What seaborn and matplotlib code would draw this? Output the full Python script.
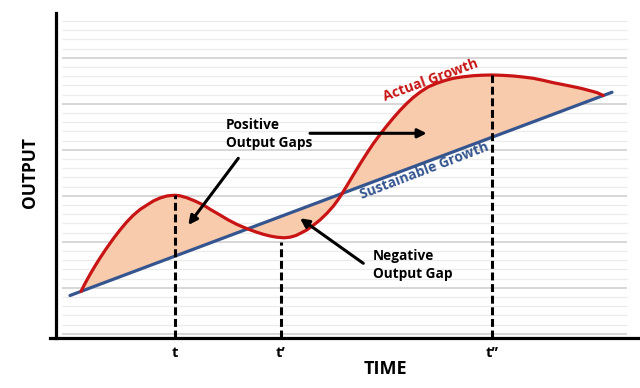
import numpy as np
import pandas as pd
import matplotlib
matplotlib.use("Agg")
import matplotlib.pyplot as plt
import seaborn as sns

# ---------------- data ----------------
actual_t = [25, 29, 34, 39, 44, 50, 57.3, 64, 70.7, 77, 84, 91, 97.3, 104,
            110.7, 115, 119, 124, 130.7, 139, 147.3, 155, 164, 172, 180.7,
            187, 194, 201, 207.3, 214, 220.7, 228, 234, 240, 245, 250.7, 257,
            264, 271, 277.3, 282, 285.7, 291, 297.3, 304, 310.7, 317, 324,
            330.5, 337.3, 344, 350.7, 357, 364, 372, 380.7, 389, 397.3, 407,
            417.3, 426, 435.7, 446, 457.3, 467, 477.3, 487, 497.3, 507, 517.3,
            526, 534, 541, 547.3]
actual_y = [46.5, 54.5, 63.5, 72, 80, 89, 99.3, 108, 116, 122.5, 128.5, 133,
            137, 140, 142, 142.5, 142.7, 142.2, 140.3, 137, 133, 128.2, 123,
            118.2, 113.7, 111, 108.2, 105.7, 103.7, 102, 100.8, 100.2, 100.8,
            102.5, 105, 108, 112.5, 118, 124.8, 131.8, 138.2, 143.8, 152.5,
            163, 174, 184.5, 194, 203.5, 211.8, 220, 227.6, 234.5, 240.3,
            245.8, 251, 254.7, 257.5, 259.7, 261.2, 262.3, 262.8, 263, 262.7,
            262, 261, 259.7, 257.7, 255.3, 253.4, 251.3, 249.4, 247.3, 245.4,
            242.5]

sustain_t = [14, 556]
sustain_y = [42.5, 245.75]

period_t = [119, 225, 436]
period_top = [142.7, 96.3, 263]
period_labels = ["t", "t\u2019", "t\u2019\u2019"]

labels_text = ["Positive\nOutput Gaps", "Negative\nOutput Gap"]

# ---------------- style ----------------
sns.set_theme(style="white")
plt.rcParams["font.family"] = ["Open Sans", "DejaVu Sans"]
plt.rcParams["text.color"] = "black"

RED = "#C81414"
BLUE = "#35558F"
FILL = "#F8CBAD"

fig = plt.figure(figsize=(6.4, 3.88), dpi=100)
ax = fig.add_axes([50 / 640, 50 / 388, 588 / 640, 325 / 388])
ax.set_xlim(-6, 582)
ax.set_ylim(0, 325)

# background grid (major + minor rows)
grid_y = 4.3 + 9.2 * np.arange(36)
for i, gy in enumerate(grid_y):
    major = (i % 5 == 0)
    ax.hlines(gy, 6, 571, color="#D4D4D4" if major else "#EBEBEB",
              lw=1.3 if major else 0.9, zorder=0)

df_a = pd.DataFrame({"time": actual_t, "output": actual_y})
df_s = pd.DataFrame({"time": sustain_t, "output": sustain_y})

# gap shading
at = np.array(actual_t)
sy = np.interp(at, sustain_t, sustain_y)
ax.fill_between(at, actual_y, sy, color=FILL, lw=0, zorder=1)

sns.lineplot(data=df_s, x="time", y="output", ax=ax, color=BLUE, lw=2.3,
             sort=False, zorder=3)
sns.lineplot(data=df_a, x="time", y="output", ax=ax, color=RED, lw=2.3,
             sort=False, zorder=4, solid_joinstyle="round",
             solid_capstyle="round")

# dashed period markers
for xt, yt in zip(period_t, period_top):
    ax.plot([xt, xt], [0, yt], color="black", lw=2.2,
            linestyle=(0, (2.6, 1.2)), zorder=5, dash_capstyle="butt")

# axes
for s in ["top", "right"]:
    ax.spines[s].set_visible(False)
ax.spines["left"].set_position(("data", 0))
for s in ["left", "bottom"]:
    ax.spines[s].set_color("black")
    ax.spines[s].set_linewidth(2.3)
    ax.spines[s].set_zorder(6)

ax.set_yticks([])
ax.set_xticks(period_t)
ax.set_xticklabels(period_labels, fontsize=10.5, fontweight="bold",
                   color="black")
ax.tick_params(axis="x", length=0, pad=6)
ax.set_xlabel("")
ax.set_ylabel("")

fig.text(385 / 640, 1 - 369 / 388, "TIME", ha="center", va="center",
         fontsize=13, fontweight="bold", color="black")
fig.text(30 / 640, 1 - 173 / 388, "OUTPUT", ha="center", va="center",
         fontsize=12.5, fontweight="bold", rotation=90, color="black")

# curve labels
ax.text(375, 258, "Actual Growth", color=RED, fontsize=10,
        fontweight="bold", rotation=20, ha="center", va="center",
        rotation_mode="anchor", zorder=7)
ax.text(368, 167, "Sustainable Growth", color=BLUE, fontsize=10,
        fontweight="bold", rotation=21, ha="center", va="center",
        rotation_mode="anchor", zorder=7)

# annotations
ax.text(170, 204, labels_text[0], fontsize=9.8, fontweight="bold",
        ha="left", va="center", linespacing=1.3, zorder=7, color="black")
ax.text(317, 73, labels_text[1], fontsize=9.8, fontweight="bold",
        ha="left", va="center", linespacing=1.45, zorder=7, color="black")

arrow_props = dict(arrowstyle="-|>", lw=2.2, color="black",
                   mutation_scale=13, shrinkA=0, shrinkB=0)
for tail, tip in [((254, 204.7), (370.7, 204.7)),
                  ((182.3, 179.7), (132.3, 113)),
                  ((307.3, 74.7), (244, 119.7))]:
    ax.annotate("", xy=tip, xytext=tail, arrowprops=arrow_props, zorder=7)

fig.savefig("out.png", dpi=100, facecolor="white")
